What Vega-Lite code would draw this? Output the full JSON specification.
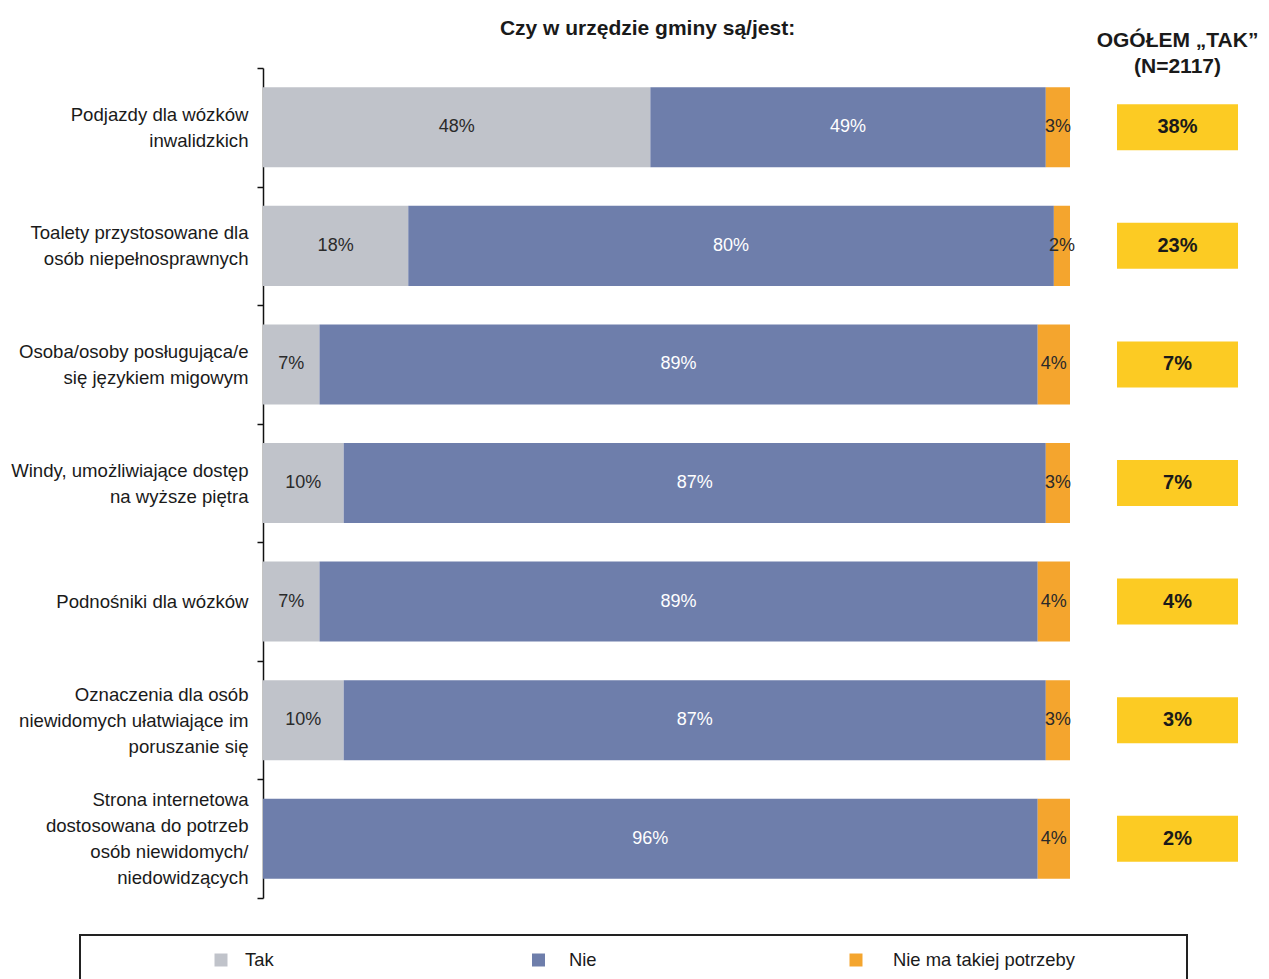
{
  "$schema": "https://vega.github.io/schema/vega-lite/v6.json",
  "padding": {"left": 10, "top": 18, "right": 5, "bottom": 0},
  "background": "white",
  "config": {"font": "Liberation Sans", "view": {"stroke": null}},
  "datasets": {
    "bars": [
      {"item": "Podjazdy dla wózków|inwalidzkich", "cat": "Tak", "value": 48},
      {"item": "Podjazdy dla wózków|inwalidzkich", "cat": "Nie", "value": 49},
      {"item": "Podjazdy dla wózków|inwalidzkich", "cat": "Nie ma takiej potrzeby", "value": 3},
      {"item": "Toalety przystosowane dla|osób niepełnosprawnych", "cat": "Tak", "value": 18},
      {"item": "Toalety przystosowane dla|osób niepełnosprawnych", "cat": "Nie", "value": 80},
      {"item": "Toalety przystosowane dla|osób niepełnosprawnych", "cat": "Nie ma takiej potrzeby", "value": 2},
      {"item": "Osoba/osoby posługująca/e|się językiem migowym", "cat": "Tak", "value": 7},
      {"item": "Osoba/osoby posługująca/e|się językiem migowym", "cat": "Nie", "value": 89},
      {"item": "Osoba/osoby posługująca/e|się językiem migowym", "cat": "Nie ma takiej potrzeby", "value": 4},
      {"item": "Windy, umożliwiające dostęp|na wyższe piętra", "cat": "Tak", "value": 10},
      {"item": "Windy, umożliwiające dostęp|na wyższe piętra", "cat": "Nie", "value": 87},
      {"item": "Windy, umożliwiające dostęp|na wyższe piętra", "cat": "Nie ma takiej potrzeby", "value": 3},
      {"item": "Podnośniki dla wózków", "cat": "Tak", "value": 7},
      {"item": "Podnośniki dla wózków", "cat": "Nie", "value": 89},
      {"item": "Podnośniki dla wózków", "cat": "Nie ma takiej potrzeby", "value": 4},
      {"item": "Oznaczenia dla osób|niewidomych ułatwiające im|poruszanie się", "cat": "Tak", "value": 10},
      {"item": "Oznaczenia dla osób|niewidomych ułatwiające im|poruszanie się", "cat": "Nie", "value": 87},
      {"item": "Oznaczenia dla osób|niewidomych ułatwiające im|poruszanie się", "cat": "Nie ma takiej potrzeby", "value": 3},
      {"item": "Strona internetowa|dostosowana do potrzeb|osób niewidomych/|niedowidzących", "cat": "Nie", "value": 96},
      {"item": "Strona internetowa|dostosowana do potrzeb|osób niewidomych/|niedowidzących", "cat": "Nie ma takiej potrzeby", "value": 4}
    ],
    "totals": [
      {"item": "Podjazdy dla wózków|inwalidzkich", "total": 38},
      {"item": "Toalety przystosowane dla|osób niepełnosprawnych", "total": 23},
      {"item": "Osoba/osoby posługująca/e|się językiem migowym", "total": 7},
      {"item": "Windy, umożliwiające dostęp|na wyższe piętra", "total": 7},
      {"item": "Podnośniki dla wózków", "total": 4},
      {"item": "Oznaczenia dla osób|niewidomych ułatwiające im|poruszanie się", "total": 3},
      {"item": "Strona internetowa|dostosowana do potrzeb|osób niewidomych/|niedowidzących", "total": 2}
    ],
    "legend": [
      {"cat": "Tak"},
      {"cat": "Nie"},
      {"cat": "Nie ma takiej potrzeby"}
    ]
  },
  "vconcat": [
    {
      "hconcat": [
        {
          "width": 990,
          "height": 830,
          "data": {"name": "bars"},
          "title": {"text": "Czy w urzędzie gminy są/jest:", "fontSize": 21, "fontWeight": "bold", "color": "#1a1a1a", "anchor": "middle", "dx": 72.5, "offset": 20},
          "transform": [
            {"calculate": "indexof(['Tak','Nie','Nie ma takiej potrzeby'], datum.cat)", "as": "ord"},
            {"stack": "value", "groupby": ["item"], "sort": [{"field": "ord"}], "as": ["x0", "x1"]},
            {"calculate": "(datum.x0 + datum.x1) / 2", "as": "xm"},
            {"calculate": "datum.value + '%'", "as": "label"}
          ],
          "encoding": {
            "y": {
              "field": "item", "type": "nominal",
              "sort": ["Podjazdy dla wózków|inwalidzkich", "Toalety przystosowane dla|osób niepełnosprawnych", "Osoba/osoby posługująca/e|się językiem migowym", "Windy, umożliwiające dostęp|na wyższe piętra", "Podnośniki dla wózków", "Oznaczenia dla osób|niewidomych ułatwiające im|poruszanie się", "Strona internetowa|dostosowana do potrzeb|osób niewidomych/|niedowidzących"],
              "scale": {"paddingInner": 0, "paddingOuter": 0},
              "axis": {
                "title": null,
                "offset": -183,
                "labelExpr": "isValid(datum.value) ? split(datum.value, '|') : ''",
                "labelFontSize": 18.6, "labelColor": "#1a1a1a", "labelLineHeight": 26, "labelPadding": 9, "labelLimit": 400,
                "labelOffset": {"condition": [
                  {"test": "isValid(datum.value) && length(split(datum.value, '|')) == 2", "value": -13},
                  {"test": "isValid(datum.value) && length(split(datum.value, '|')) == 3", "value": -26},
                  {"test": "isValid(datum.value) && length(split(datum.value, '|')) == 4", "value": -39}
                ], "value": 0},
                "tickBand": "extent", "tickSize": 6, "tickColor": "#111", "tickWidth": 1.5, "domainColor": "#111", "domainWidth": 1.5, "grid": false
              }
            }
          },
          "layer": [
            {
              "mark": {"type": "bar", "height": {"band": 0.675}},
              "encoding": {
                "x": {"field": "x0", "type": "quantitative", "scale": {"domain": [-22.677, 100], "nice": false, "zero": false}, "axis": null},
                "x2": {"field": "x1"},
                "color": {"field": "cat", "type": "nominal", "scale": {"domain": ["Tak", "Nie", "Nie ma takiej potrzeby"], "range": ["#C0C3CA", "#6E7EAB", "#F4A52E"]}, "legend": null}
              }
            },
            {
              "mark": {"type": "text", "fontSize": 18},
              "encoding": {
                "x": {"field": "xm", "type": "quantitative"},
                "text": {"field": "label", "type": "nominal"},
                "color": {"condition": {"test": "datum.cat === 'Nie'", "value": "white"}, "value": "#2a2a2a"}
              }
            }
          ]
        },
        {
          "width": 121,
          "height": 830,
          "data": {"name": "totals"},
          "title": {"text": ["OGÓŁEM „TAK”", "(N=2117)"], "fontSize": 21, "fontWeight": "bold", "color": "#1a1a1a", "lineHeight": 26, "anchor": "middle", "offset": -9},
          "transform": [{"calculate": "datum.total + '%'", "as": "label"}],
          "encoding": {
            "y": {
              "field": "item", "type": "nominal",
              "sort": ["Podjazdy dla wózków|inwalidzkich", "Toalety przystosowane dla|osób niepełnosprawnych", "Osoba/osoby posługująca/e|się językiem migowym", "Windy, umożliwiające dostęp|na wyższe piętra", "Podnośniki dla wózków", "Oznaczenia dla osób|niewidomych ułatwiające im|poruszanie się", "Strona internetowa|dostosowana do potrzeb|osób niewidomych/|niedowidzących"],
              "scale": {"paddingInner": 0, "paddingOuter": 0},
              "axis": null
            }
          },
          "layer": [
            {"mark": {"type": "bar", "color": "#FCCB23", "height": {"band": 0.388}}},
            {"mark": {"type": "text", "fontSize": 20, "fontWeight": "bold", "color": "#1a1a1a"}, "encoding": {"text": {"field": "label", "type": "nominal"}}}
          ]
        }
      ],
      "spacing": 47,
      "bounds": "flush"
    },
    {
      "width": 1107,
      "height": 50,
      "view": {"stroke": "#222", "strokeWidth": 2},
      "data": {"name": "legend"},
      "resolve": {"scale": {"x": "independent"}},
      "layer": [
        {
          "mark": {"type": "square", "size": 169, "opacity": 1, "filled": true},
          "encoding": {
            "x": {"field": "cat", "type": "nominal", "sort": ["Tak", "Nie", "Nie ma takiej potrzeby"], "scale": {"type": "point", "range": [141, 776], "padding": 0}, "axis": null},
            "color": {"field": "cat", "type": "nominal", "scale": {"domain": ["Tak", "Nie", "Nie ma takiej potrzeby"], "range": ["#C0C3CA", "#6E7EAB", "#F4A52E"]}, "legend": null}
          }
        },
        {
          "mark": {"type": "text", "align": "left", "fontSize": 18.4, "color": "#1a1a1a"},
          "encoding": {
            "x": {"field": "cat", "type": "nominal", "sort": ["Tak", "Nie", "Nie ma takiej potrzeby"], "scale": {"type": "point", "range": [165, 813], "padding": 0}, "axis": null},
            "text": {"field": "cat", "type": "nominal"}
          }
        }
      ]
    }
  ],
  "spacing": 35
}
